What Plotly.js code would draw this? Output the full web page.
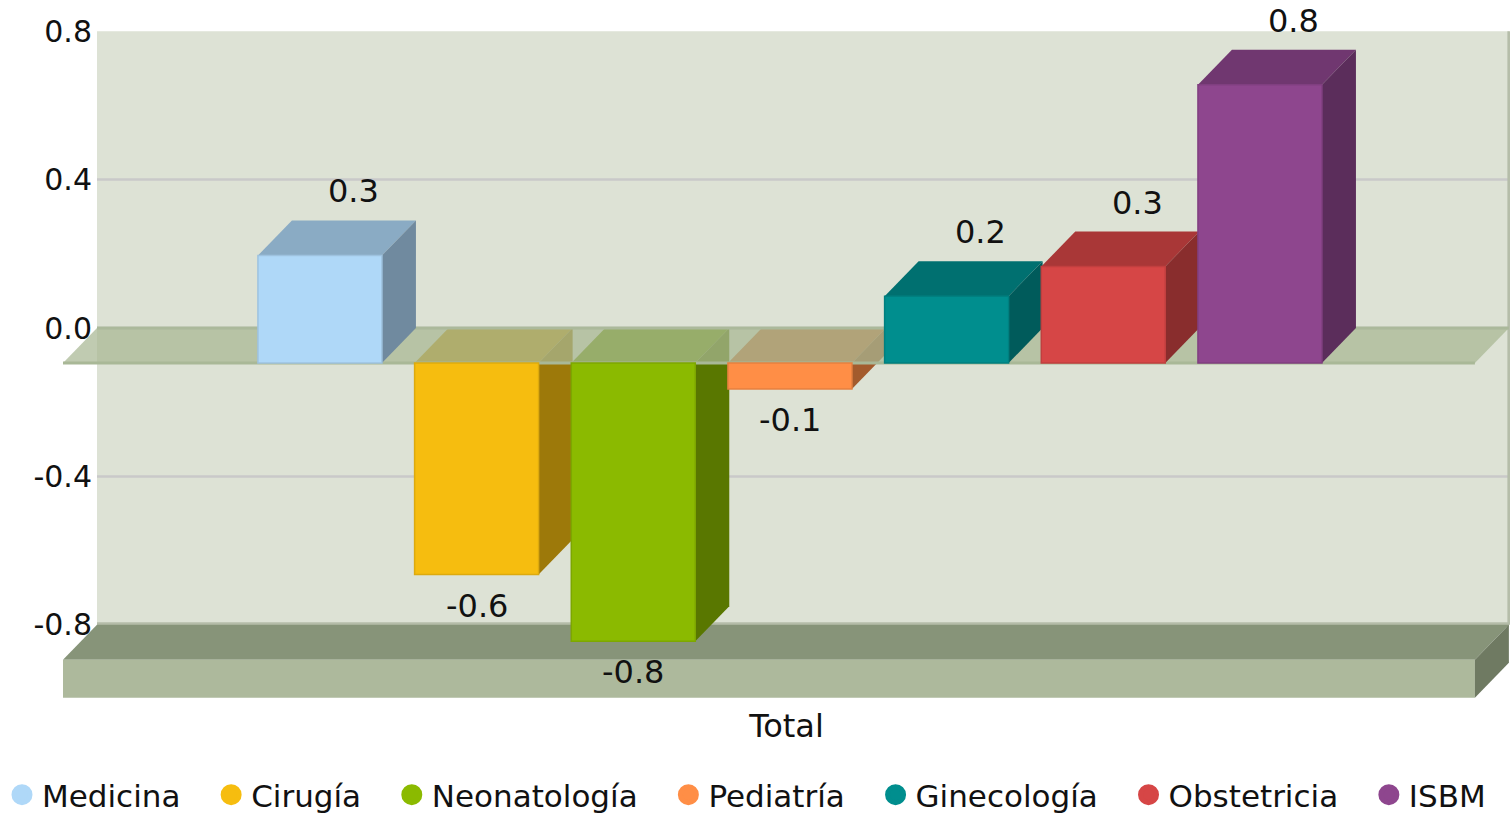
<!DOCTYPE html>
<html><head><meta charset="utf-8">
<script src="https://cdn.plot.ly/plotly-3.0.1.min.js"></script>
<style>html,body{margin:0;padding:0;background:#fff}#chart{width:1511px;height:814px}</style>
</head><body><div id="chart"></div>
<script>
// ---- data ----
const categories = ['Total'];
const series = ['Medicina', 'Cirugía', 'Neonatología', 'Pediatría', 'Ginecología', 'Obstetricia', 'ISBM'];
const values = [0.29, -0.57, -0.75, -0.07, 0.18, 0.26, 0.75];
const colors = ['#AFD8F8', '#F6BD0F', '#8BBA00', '#FF8E46', '#008E8E', '#D64646', '#8E468E'];
const yTickVals = [-0.8, -0.4, 0, 0.4, 0.8];
const yTickText = ['-0.8', '-0.4', '0.0', '0.4', '0.8'];

// ---- geometry / style ----
const W = 1511, H = 814;
const M = {l: 63, r: 1, t: 10, b: 109, autoexpand: false};
const plotW = W - M.l - M.r, plotH = H - M.t - M.b;
const X_RANGE = [-1.857, 7.379], Y_RANGE = [-1.016, 0.857];
const pxX = plotW / (X_RANGE[1] - X_RANGE[0]);
const pxY = plotH / (Y_RANGE[1] - Y_RANGE[0]);
const DX = 34 / pxX, DY = 35 / pxY;          // 3D depth offsets in data units
const BAR_W = 124 / pxX;
const WALL = {x0: -1.640, x1: 7.372, y0: -0.8, y1: 0.8};
const FLOOR_T = 38 / pxY;
const FONT = 'DejaVu Sans, Verdana, sans-serif';
const TXT = '#111111';
const PAD = '\u2002\u2004';

function shade(hex, f) {
  const n = parseInt(hex.slice(1), 16);
  const r = Math.round(((n >> 16) & 255) * f), g = Math.round(((n >> 8) & 255) * f), b = Math.round((n & 255) * f);
  return 'rgb(' + r + ',' + g + ',' + b + ')';
}
const shapes = [];
function P(pts) { return 'M' + pts.map(p => p[0].toFixed(5) + ',' + p[1].toFixed(5)).join('L') + 'Z'; }
function poly(pts, fill) {
  shapes.push({type: 'path', xref: 'x', yref: 'y', path: P(pts), fillcolor: fill, line: {width: 0}, layer: 'below'});
}
function seg(x0, y0, x1, y1, color, width) {
  shapes.push({type: 'line', xref: 'x', yref: 'y', x0: x0, y0: y0, x1: x1, y1: y1, line: {color: color, width: width}, layer: 'below'});
}

// back wall
poly([[WALL.x0, WALL.y0], [WALL.x1, WALL.y0], [WALL.x1, WALL.y1], [WALL.x0, WALL.y1]], '#DDE2D5');
yTickVals.filter(t => t > WALL.y0 && t < WALL.y1).forEach(t => seg(WALL.x0, t, WALL.x1, t, '#C9C9C9', 2.5));
seg(WALL.x1, WALL.y0, WALL.x1, WALL.y1, '#B5BDA9', 3);
seg(WALL.x0, WALL.y0, WALL.x1, WALL.y0, '#B4BCA8', 5);

// floor slab
const fy = WALL.y0;
poly([[WALL.x0, fy], [WALL.x1, fy], [WALL.x1 - DX, fy - DY], [WALL.x0 - DX, fy - DY]], '#879479');
poly([[WALL.x0 - DX, fy - DY], [WALL.x1 - DX, fy - DY], [WALL.x1 - DX, fy - DY - FLOOR_T], [WALL.x0 - DX, fy - DY - FLOOR_T]], '#ADB99C');
poly([[WALL.x1 - DX, fy - DY], [WALL.x1, fy], [WALL.x1, fy - FLOOR_T], [WALL.x1 - DX, fy - DY - FLOOR_T]], '#6F7A62');

function barFaces(i) {
  const v = values[i];
  const bl = i - BAR_W / 2, br = i + BAR_W / 2, fl = bl - DX, fr = br - DX;
  const t = Math.max(v, 0);
  poly([[fl, t - DY], [fr, t - DY], [br, t], [bl, t]], shade(colors[i], 0.79));
  poly([[fr, -DY], [fr, v - DY], [br, v], [br, 0]], shade(colors[i], 0.64));
}
// negative bars (their tops lie under the translucent zero plane)
values.forEach((v, i) => { if (v < 0) barFaces(i); });
// zero plane
poly([[WALL.x0, 0], [WALL.x1, 0], [WALL.x1 - DX, -DY], [WALL.x0 - DX, -DY]], 'rgba(167,183,147,0.72)');
seg(WALL.x0, 0, WALL.x1, 0, '#ABB99B', 3);
seg(WALL.x0 - DX, -DY, WALL.x1 - DX, -DY, '#A9B897', 3);
// positive bars
values.forEach((v, i) => { if (v >= 0) barFaces(i); });

// ---- traces ----
const traces = [];
series.forEach((s, i) => {
  traces.push({
    type: 'bar', x: [i - DX], y: [values[i]], base: [-DY], width: [BAR_W],
    name: s, legendgroup: s, showlegend: false,
    marker: {color: colors[i], line: {color: shade(colors[i], 0.9), width: 1.5}},
    hovertemplate: s + ' (' + categories[0] + '): %{y:.2f}<extra></extra>'
  });
});
series.forEach((s, i) => {
  traces.push({
    type: 'scatter', mode: 'markers', x: [null], y: [null],
    name: s + (i < series.length - 1 ? PAD : ''), legendgroup: s,
    marker: {symbol: 'circle', size: 16, color: colors[i], line: {color: colors[i], width: 5}},
    hoverinfo: 'skip'
  });
});

// ---- data labels ----
const annotations = values.map((v, i) => ({
  xref: 'x', yref: 'y', showarrow: false,
  x: v >= 0 ? i : i - DX,
  y: v >= 0 ? v : v - DY,
  yshift: v >= 0 ? 29 : -31,
  xanchor: 'center', yanchor: 'middle',
  text: v.toFixed(1),
  font: {family: FONT, size: 32, color: TXT}
}));

const layout = {
  width: W, height: H,
  margin: M,
  paper_bgcolor: '#ffffff', plot_bgcolor: 'rgba(0,0,0,0)',
  barmode: 'overlay',
  showlegend: true,
  font: {family: FONT, color: TXT},
  xaxis: {
    range: X_RANGE, showgrid: false, zeroline: false, showline: false, ticks: '',
    showticklabels: false, fixedrange: true, automargin: false,
    title: {text: categories[0], font: {family: FONT, size: 32, color: TXT}, standoff: 9}
  },
  yaxis: {
    range: Y_RANGE, showgrid: false, zeroline: false, showline: false, ticks: '',
    tickmode: 'array', tickvals: yTickVals, ticktext: yTickText,
    tickfont: {family: FONT, size: 30, color: TXT},
    ticklabelstandoff: -30, fixedrange: true, automargin: false
  },
  legend: {
    orientation: 'h', xref: 'paper', yref: 'paper',
    x: (2 - M.l) / plotW, xanchor: 'left',
    y: -(795 - (H - M.b)) / plotH, yanchor: 'middle',
    font: {family: FONT, size: 31, color: TXT},
    bgcolor: 'rgba(0,0,0,0)', borderwidth: 0
  },
  shapes: shapes,
  annotations: annotations
};

Plotly.newPlot('chart', traces, layout, {displayModeBar: false, responsive: false});
</script>
</body></html>
